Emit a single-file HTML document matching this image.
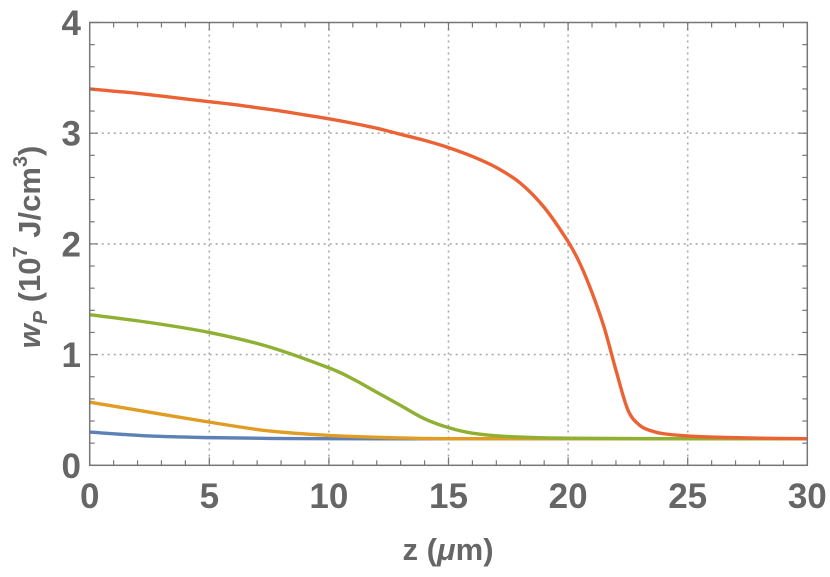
<!DOCTYPE html>
<html><head><meta charset="utf-8"><style>
body{margin:0;background:#fff}
svg{display:block;font-family:"Liberation Sans",sans-serif}
</style></head><body>
<svg width="830" height="577" id="c">
<g id="grid"></g>
<g id="series"></g>
<g id="axes"></g>
<text x="448" y="560" font-size="31" font-weight="bold" fill="#666" text-anchor="middle">z (<tspan font-style="italic">μ</tspan>m)</text>
<text transform="translate(40,247) rotate(-90)" font-size="31" font-weight="bold" fill="#666" text-anchor="middle"><tspan font-style="italic">w</tspan><tspan font-style="italic" font-size="20" dy="7">P</tspan><tspan dy="-7"> (10</tspan><tspan font-size="20" dy="-13">7</tspan><tspan dy="13"> J/cm</tspan><tspan font-size="20" dy="-13">3</tspan><tspan dy="13">)</tspan></text>
</svg>
<script>
const xTicks=[0,5,10,15,20,25,30];
const yTicks=[0,1,2,3,4];
const zs=[0,1,2,3,4,5,6,7,8,9,10,11,12,13,14,15,16,17,18,19,20,20.5,21,21.5,22,22.5,23,23.5,24,25,26,28,30];
const red=[3.4,3.38,3.36,3.335,3.31,3.285,3.26,3.23,3.2,3.165,3.13,3.09,3.045,2.99,2.935,2.87,2.79,2.69,2.55,2.33,2.02,1.82,1.56,1.25,0.86,0.5,0.36,0.31,0.285,0.265,0.255,0.245,0.24];
const zg=[0,2.5,5,7.5,10,11,12,13,14,15,16,17.5,20,25,30];
const green=[1.36,1.29,1.2,1.07,0.88,0.78,0.66,0.54,0.42,0.34,0.29,0.26,0.245,0.24,0.24];
const zo=[0,2.5,5,7.5,10,12.5,15,20,30];
const orange=[0.57,0.48,0.39,0.31,0.27,0.25,0.24,0.24,0.24];
const zb=[0,2.5,5,7.5,10,15,20,30];
const blue=[0.3,0.265,0.25,0.243,0.24,0.24,0.24,0.24];
const X=v=>89.7+v*23.92, Y=v=>465.3-v*110.7;
const NS="http://www.w3.org/2000/svg";
function mk(t,a,p){const e=document.createElementNS(NS,t);for(const k in a)e.setAttribute(k,a[k]);p.appendChild(e);return e;}
const g=document.getElementById('grid'),ax=document.getElementById('axes'),s=document.getElementById('series');
xTicks.forEach(v=>{if(v>0&&v<30){const l=mk('line',{x1:X(v),x2:X(v),y1:Y(4),y2:Y(0),stroke:'#aaa','stroke-width':1.6,'stroke-dasharray':'2 4'},g);

}
const t=mk('text',{x:X(v),y:508,'font-size':35,'font-weight':'bold',fill:'#666','text-anchor':'middle'},ax);t.textContent=v;

});
yTicks.forEach(v=>{if(v>0&&v<4){const l=mk('line',{x1:X(0),x2:X(30),y1:Y(v),y2:Y(v),stroke:'#aaa','stroke-width':1.6,'stroke-dasharray':'2 4'},g);

}
const t=mk('text',{x:81,y:Y(v)+12.5,'font-size':35,'font-weight':'bold',fill:'#666','text-anchor':'end'},ax);t.textContent=v;

});
const fr=mk('rect',{x:X(0),y:Y(4),width:X(30)-X(0),height:Y(0)-Y(4),fill:'none',stroke:'#777','stroke-width':1.5},ax);


for(let i=0;i<=30;i++){const L=i%5==0?8:5;
mk('line',{x1:X(i),x2:X(i),y1:Y(0),y2:Y(0)-L,stroke:'#777','stroke-width':1.2},ax);
mk('line',{x1:X(i),x2:X(i),y1:Y(4),y2:Y(4)+L,stroke:'#777','stroke-width':1.2},ax);}
for(let i=0;i<=20;i++){const v=i*0.2,L=i%5==0?8:5;
mk('line',{x1:X(0),x2:X(0)+L,y1:Y(v),y2:Y(v),stroke:'#777','stroke-width':1.2},ax);
mk('line',{x1:X(30),x2:X(30)-L,y1:Y(v),y2:Y(v),stroke:'#777','stroke-width':1.2},ax);}
function path(xs,ys){const pts=xs.map((x,i)=>[X(x),Y(ys[i])]);
let d='M'+pts[0];for(let i=0;i<pts.length-1;i++){const p0=pts[i-1]||pts[i],p1=pts[i],p2=pts[i+1],p3=pts[i+2]||p2;
const c1=[p1[0]+(p2[0]-p0[0])/6,p1[1]+(p2[1]-p0[1])/6],c2=[p2[0]-(p3[0]-p1[0])/6,p2[1]-(p3[1]-p1[1])/6];
d+='C'+c1+' '+c2+' '+p2;}return d;}
[[zb,blue,'#5e81b5','series-blue'],[zo,orange,'#e19c24','series-orange'],[zg,green,'#8fb032','series-green'],[zs,red,'#eb6235','series-red']].forEach(([xs,ys,c,n])=>{
const p=mk('path',{d:path(xs,ys),fill:'none',stroke:c,'stroke-width':3.4,'stroke-linejoin':'round'},s);

});
</script>
</body></html>
